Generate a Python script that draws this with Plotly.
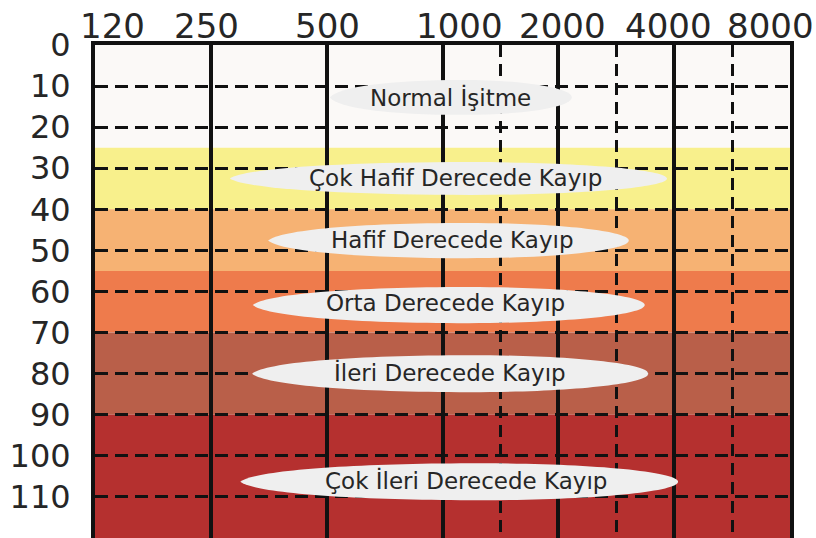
import numpy as np
import plotly.graph_objects as go

# ---------------- data ----------------
freqs = [125, 250, 500, 1000, 2000, 4000, 8000]            # Hz (solid verticals)
freq_labels = ["120", "250", "500", "1000", "2000", "4000", "8000"]
half_octave_freqs = [1414, 2828, 5657]                     # dashed verticals
db_ticks = [0, 10, 20, 30, 40, 50, 60, 70, 80, 90, 100, 110]

band_names = ["Normal İşitme", "Çok Hafif Derecede Kayıp", "Hafif Derecede Kayıp",
              "Orta Derecede Kayıp", "İleri Derecede Kayıp", "Çok İleri Derecede Kayıp"]
band_low_db = [0, 25, 40, 55, 70, 90]
band_high_db = [25, 40, 55, 70, 90, 120]

# ---------------- styles / layout positions ----------------
band_colors = ["#FBF9F7", "#F8F08C", "#F6B273", "#EE7B4C", "#B95F49", "#B5302F"]
label_shift_px = [17, -4, 1, 17, 4, -6, -20]
# ellipse callouts: (x0 paper, x1 paper, y0 dB, y1 dB), text centre (x paper, y dB)
ell_x0 = [0.338, 0.194, 0.249, 0.227, 0.226, 0.209]
ell_x1 = [0.686, 0.823, 0.768, 0.791, 0.796, 0.839]
ell_y0 = [8.5, 28.5, 43.3, 58.9, 75.5, 101.8]
ell_y1 = [17.0, 36.5, 51.9, 67.7, 84.5, 110.8]
txt_x = [0.512, 0.518, 0.514, 0.504, 0.511, 0.534]
txt_y = [12.7, 32.4, 47.5, 62.8, 79.8, 106.1]

FONT = "DejaVu Sans"
INK = "#262626"
LINE = "#111111"

fig = go.Figure()
fig.add_trace(go.Scatter(x=[freqs[0], freqs[-1]], y=[0, 0], mode="markers",
                         marker=dict(opacity=0), hoverinfo="skip", showlegend=False))

shapes = []
for lo, hi, col in zip(band_low_db, band_high_db, band_colors):
    shapes.append(dict(type="rect", xref="paper", yref="y", x0=0, x1=1, y0=lo, y1=hi,
                       fillcolor=col, line=dict(width=0), layer="below"))


def lens_path(x0, x1, y0, y1):
    yc = (y0 + y1) / 2
    r = (y1 - y0) / 2
    xm = x0 + 0.55 * (x1 - x0)
    a = x1 - xm
    b = xm - x0
    k = 0.5523
    return (f"M {x0},{yc} "
            f"C {x0 + 0.06 * b},{yc - 0.6 * r} {xm - 0.55 * b},{yc - r} {xm},{yc - r} "
            f"C {xm + k * a},{yc - r} {x1},{yc - k * r} {x1},{yc} "
            f"C {x1},{yc + k * r} {xm + k * a},{yc + r} {xm},{yc + r} "
            f"C {xm - 0.55 * b},{yc + r} {x0 + 0.06 * b},{yc + 0.6 * r} {x0},{yc} Z")


for i in range(len(band_names)):
    shapes.append(dict(type="path", xref="paper", yref="y",
                       path=lens_path(ell_x0[i], ell_x1[i], ell_y0[i], ell_y1[i]),
                       fillcolor="#EFEFEF", line=dict(width=0), layer="above"))

annotations = []
for name, x, y in zip(band_names, txt_x, txt_y):
    annotations.append(dict(text=name, xref="paper", yref="y", x=x, y=y,
                            showarrow=False, font=dict(family=FONT, size=23, color=INK),
                            xanchor="center", yanchor="middle"))
for f, lab, dx in zip(freqs, freq_labels, label_shift_px):
    annotations.append(dict(text=lab, xref="x", yref="paper", x=np.log10(f), y=1,
                            showarrow=False, font=dict(family=FONT, size=34, color=INK),
                            xanchor="center", yanchor="bottom", xshift=dx, yshift=-3))

fig.update_layout(
    width=816, height=538,
    margin=dict(l=95, r=26, t=45, b=0, pad=0),
    paper_bgcolor="white", plot_bgcolor="white",
    showlegend=False,
    shapes=shapes, annotations=annotations,
    xaxis=dict(type="log", range=[np.log10(freqs[0]), np.log10(freqs[-1])],
               side="top", showticklabels=False, ticks="",
               tickvals=freqs, showgrid=True, gridcolor=LINE, gridwidth=3.5,
               minor=dict(tickvals=half_octave_freqs, showgrid=True, gridcolor=LINE,
                          gridwidth=3, griddash="12px,7px", ticks=""),
               showline=True, linecolor=LINE, linewidth=4, mirror=False,
               zeroline=False, fixedrange=True),
    yaxis=dict(range=[120, 0], tickvals=db_ticks, ticktext=[str(v) for v in db_ticks],
               tickfont=dict(family=FONT, size=32, color=INK), ticks="",
               ticklabelstandoff=14,
               showgrid=True, gridcolor=LINE, gridwidth=3, griddash="13px,7px",
               showline=True, linecolor=LINE, linewidth=4, mirror=True,
               zeroline=False, fixedrange=True),
)

fig.write_html("out.html", config={"displayModeBar": False},
               post_script="document.body.style.margin='0';document.body.style.overflow='hidden';")
